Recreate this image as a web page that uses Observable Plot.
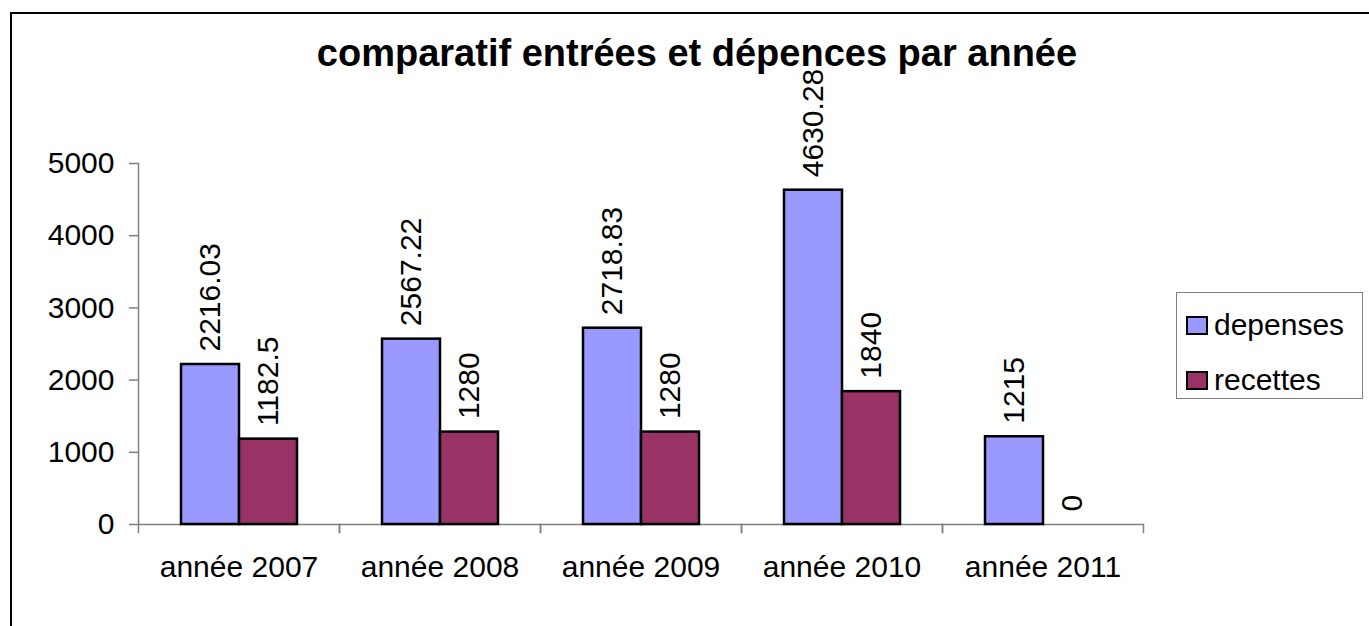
<!DOCTYPE html>
<html>
<head>
<meta charset="utf-8">
<script src="https://cdn.jsdelivr.net/npm/d3@7"></script>
<script src="https://cdn.jsdelivr.net/npm/@observablehq/plot@0.6"></script>
<style>
  html, body { margin: 0; padding: 0; background: #fff; overflow: hidden; width: 1369px; height: 626px; }
  body { position: relative; font-family: "Liberation Sans", Arial, sans-serif; }
  #border { position: absolute; left: 10px; top: 12px; width: 1500px; height: 800px; border: 2px solid #000; box-sizing: border-box; }
  #title { position: absolute; left: 0; width: 1394px; top: 32px; text-align: center; font-weight: bold; font-size: 38px; color: #000; white-space: nowrap; }
  #chart { position: absolute; left: 0; top: 0; }
  #legend { position: absolute; left: 1176px; top: 292px; width: 187px; height: 107px; border: 1px solid #808080; box-sizing: border-box; background: #fff; }
  .item { position: absolute; left: 9px; display: flex; align-items: center; font-size: 30px; color: #000; line-height: 1; }
  .sw { width: 18px; height: 15px; border: 2px solid #000; margin-right: 6px; }
</style>
</head>
<body>
<div id="border"></div>
<div id="title">comparatif entrées et dépences par année</div>
<div id="chart"></div>
<div id="legend"></div>
<script>
const years = ["année 2007", "année 2008", "année 2009", "année 2010", "année 2011"];
const seriesNames = ["depenses", "recettes"];
const depenses = [2216.03, 2567.22, 2718.83, 4630.28, 1215];
const recettes = [1182.5, 1280, 1280, 1840, 0];
const seriesColors = ["#9999FF", "#993366"];
const yTicks = [0, 1000, 2000, 3000, 4000, 5000];

const data = [];
years.forEach((year, i) => {
  data.push({year, series: seriesNames[0], value: depenses[i]});
  data.push({year, series: seriesNames[1], value: recettes[i]});
});

const font = "Liberation Sans, Arial, sans-serif";

const chart = Plot.plot({
  width: 1369,
  height: 626,
  marginLeft: 137,
  marginRight: 225,
  marginTop: 163,
  marginBottom: 102,
  style: {fontFamily: font, fontSize: "30px", color: "#000", background: "transparent", overflow: "visible"},
  fx: {domain: years, padding: 0, label: null},
  x: {domain: seriesNames, paddingInner: 0, paddingOuter: 0.72, axis: null},
  y: {domain: [0, 5000]},
  color: {domain: seriesNames, range: seriesColors},
  marks: [
    Plot.ruleY([0], {stroke: "#808080", strokeWidth: 1.5}),
    Plot.frame({anchor: "left", fx: years[0], stroke: "#808080", strokeWidth: 1.5}),
    Plot.frame({anchor: "left", stroke: "#808080", strokeWidth: 1.5, insetTop: 361, insetBottom: -8}),
    Plot.frame({anchor: "right", stroke: "#808080", strokeWidth: 1.5, insetTop: 361, insetBottom: -8}),
    Plot.axisY({ticks: yTicks, tickFormat: d => String(d), tickSize: 9, tickPadding: 15, stroke: "#808080", strokeWidth: 1.5, fill: "#000", fontSize: 30, label: null}),
    Plot.axisFx({anchor: "bottom", tickSize: 0, tickPadding: 31, fontSize: 30, fill: "#000", label: null}),
    Plot.barY(data, {filter: d => d.value > 0, fx: "year", x: "series", y: "value", fill: "series", stroke: "#000", strokeWidth: 2.5}),
    Plot.text(data, {fx: "year", x: "series", y: "value", text: d => String(d.value), rotate: -90, textAnchor: "start", lineAnchor: "middle", dy: -13, fontSize: 30, fill: "#000"})
  ]
});
document.getElementById("chart").appendChild(chart);

const legend = document.getElementById("legend");
const legendTops = [17, 72];
seriesNames.forEach((name, i) => {
  const item = document.createElement("div");
  item.className = "item";
  item.style.top = legendTops[i] + "px";
  const sw = document.createElement("span");
  sw.className = "sw";
  sw.style.background = seriesColors[i];
  item.appendChild(sw);
  item.appendChild(document.createTextNode(name));
  legend.appendChild(item);
});
</script>
</body>
</html>
